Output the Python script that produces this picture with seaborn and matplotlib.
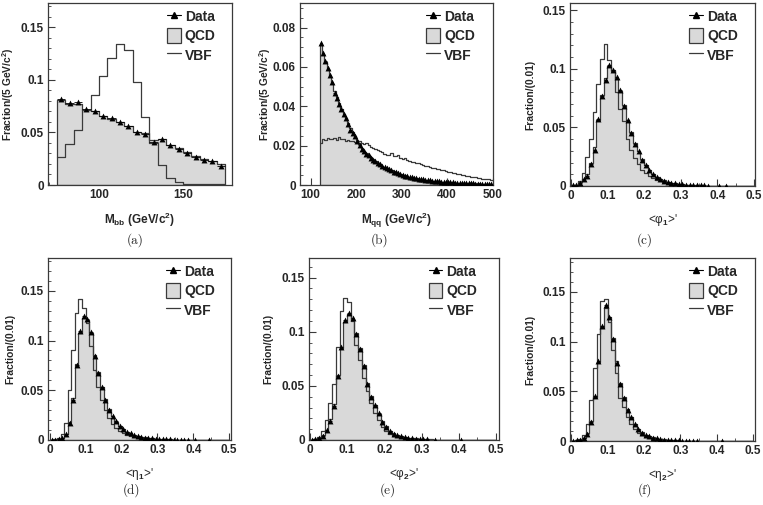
import numpy as np
import pandas as pd
import matplotlib
matplotlib.use("Agg")
import matplotlib.pyplot as plt
import seaborn as sns
from matplotlib.lines import Line2D
from matplotlib.patches import Patch
from matplotlib.ticker import AutoMinorLocator

sns.set_theme(style="white")
plt.rcParams["font.family"] = ["Liberation Sans", "DejaVu Sans"]
plt.rcParams["font.weight"] = "bold"
plt.rcParams["mathtext.fontset"] = "custom"
plt.rcParams["mathtext.rm"] = "Liberation Sans:bold"
plt.rcParams["mathtext.bf"] = "Liberation Sans:bold"
plt.rcParams["mathtext.it"] = "Liberation Sans:bold"

nan = np.nan

# ---------------- panel (a): M_bb, 5 GeV bins from 75 to 175
edges_a = list(range(75, 180, 5))
data_a = [0.0816, 0.0784, 0.0790, 0.0719, 0.0706, 0.0658, 0.0639, 0.0597, 0.0565, 0.0500,
          0.0487, 0.0410, 0.0442, 0.0380, 0.0345, 0.0306, 0.0268, 0.0235, 0.0229, 0.0185]
qcd_a = [0.0805, 0.0772, 0.0772, 0.0712, 0.0700, 0.0660, 0.0632, 0.0595, 0.0560, 0.0505,
         0.0490, 0.0425, 0.0440, 0.0382, 0.0350, 0.0312, 0.0275, 0.0245, 0.0232, 0.0200]
vbf_a = [0.027, 0.039, 0.052, 0.071, 0.086, 0.104, 0.121, 0.134, 0.128, 0.098,
         0.065, 0.040, 0.019, 0.007, 0.0025, 0.0012, 0.0008, 0.0006, 0.0005, 0.0005]

# ---------------- panel (b): M_qq, 5 GeV bins from 120 to 500
edges_b = list(range(120, 505, 5))
data_b = [0.0720, 0.0670, 0.0630, 0.0595, 0.0560, 0.0525, 0.0470, 0.0440, 0.0410, 0.0385,
          0.0360, 0.0338, 0.0310, 0.0280, 0.0265, 0.0248, 0.0225, 0.0205, 0.0185, 0.0172,
          0.0160, 0.0150, 0.0138, 0.0128, 0.0120, 0.0112, 0.0105, 0.0098, 0.0090, 0.0085,
          0.0080, 0.0074, 0.0068, 0.0064, 0.0060, 0.0055, 0.0052, 0.0048, 0.0045, 0.0042,
          0.0039, 0.0036, 0.0034, 0.0032, 0.0030, 0.0028, 0.0026, 0.0025, 0.0023, 0.0022,
          0.0020, 0.0019, 0.0018, 0.0017, 0.0016, 0.0015, 0.0014, 0.0013, 0.0013, 0.0012,
          0.0011, 0.0011, 0.0010, 0.0010, 0.0009, 0.0009, 0.0008, 0.0008, 0.0007, 0.0007,
          0.0007, 0.0006, 0.0006, 0.0006, 0.0005, 0.0005]
qcd_b = [0.0710, 0.0665, 0.0625, 0.0590, 0.0555, 0.0520, 0.0480, 0.0445, 0.0415, 0.0388,
         0.0362, 0.0340, 0.0315, 0.0290, 0.0270, 0.0250, 0.0228, 0.0208, 0.0190, 0.0175,
         0.0162, 0.0150, 0.0140, 0.0130, 0.0121, 0.0113, 0.0106, 0.0099, 0.0092, 0.0086,
         0.0081, 0.0075, 0.0070, 0.0065, 0.0061, 0.0057, 0.0053, 0.0049, 0.0046, 0.0043,
         0.0040, 0.0037, 0.0035, 0.0033, 0.0031, 0.0029, 0.0027, 0.0025, 0.0024, 0.0022,
         0.0021, 0.0020, 0.0018, 0.0017, 0.0016, 0.0015, 0.0014, 0.0014, 0.0013, 0.0012,
         0.0012, 0.0011, 0.0011, 0.0010, 0.0010, 0.0009, 0.0009, 0.0008, 0.0008, 0.0008,
         0.0007, 0.0007, 0.0007, 0.0006, 0.0006, 0.0006]
vbf_b = [0.0215, 0.0235, 0.0230, 0.0240, 0.0232, 0.0236, 0.0240, 0.0228, 0.0245, 0.0232,
         0.0236, 0.0225, 0.0230, 0.0224, 0.0226, 0.0220, 0.0218, 0.0222, 0.0215, 0.0208,
         0.0212, 0.0202, 0.0195, 0.0190, 0.0185, 0.0178, 0.0172, 0.0168, 0.0160, 0.0155,
         0.0152, 0.0162, 0.0148, 0.0145, 0.0150, 0.0138, 0.0132, 0.0135, 0.0126, 0.0122,
         0.0118, 0.0115, 0.0110, 0.0113, 0.0105, 0.0100, 0.0098, 0.0095, 0.0090, 0.0088,
         0.0085, 0.0082, 0.0080, 0.0076, 0.0074, 0.0070, 0.0068, 0.0066, 0.0062, 0.0060,
         0.0058, 0.0055, 0.0052, 0.0050, 0.0048, 0.0046, 0.0043, 0.0041, 0.0040, 0.0037,
         0.0035, 0.0033, 0.0031, 0.0030, 0.0028, 0.0026]

# ---------------- panels (c)-(f): 0.01 bins from 0 to 0.5
edges_shape = [round(0.01 * i, 2) for i in range(51)]

data_c = [0.0005, 0.0010, 0.0026, 0.0057, 0.0085, 0.019, 0.031, 0.057, 0.077, 0.090,
          0.103, 0.099, 0.093, 0.082, 0.068, 0.056, 0.045, 0.036, 0.030, 0.022,
          0.0175, 0.0135, 0.0100, 0.0077, 0.0057, 0.0045, 0.0035, 0.0028, 0.0022, 0.0017,
          0.0013, 0.0011, 0.0009, 0.0008, 0.0006, 0.0005, 0.0005, 0.0004, nan, nan,
          0.0003, nan, 0.0003, nan, nan, nan, nan, nan, nan, nan]
qcd_c = [0.0005, 0.0012, 0.0030, 0.0060, 0.0100, 0.0200, 0.0330, 0.0560, 0.0780, 0.0920,
         0.1020, 0.0990, 0.0910, 0.0810, 0.0690, 0.0560, 0.0460, 0.0370, 0.0300, 0.0230,
         0.0180, 0.0140, 0.0105, 0.0080, 0.0060, 0.0047, 0.0036, 0.0029, 0.0023, 0.0018,
         0.0014, 0.0011, 0.0009, 0.0008, 0.0006, 0.0005, 0.0004, 0.0004, 0.0003, 0.0003,
         0.0002, 0.0002, 0.0002, 0.0001, 0.0001, 0, 0, 0, 0, 0]
vbf_c = [0.0003, 0.0010, 0.0040, 0.0110, 0.0250, 0.0400, 0.0630, 0.0870, 0.1080, 0.1210,
         0.1070, 0.0980, 0.0800, 0.0660, 0.0550, 0.0400, 0.0310, 0.0240, 0.0190, 0.0140,
         0.0110, 0.0085, 0.0070, 0.0050, 0.0040, 0.0030, 0.0025, 0.0020, 0.0015, 0.0010,
         0.0008, 0.0006, 0.0005, 0.0004, 0.0003, 0.0002, 0.0002, 0.0001, 0.0001, 0.0001,
         0, 0, 0, 0, 0, 0, 0, 0, 0, 0]

data_d = [0.0003, 0.0005, 0.0010, 0.0020, 0.0060, 0.0170, 0.0400, 0.0750, 0.1100, 0.1250,
          0.1220, 0.1090, 0.0840, 0.0670, 0.0530, 0.0400, 0.0300, 0.0240, 0.0190, 0.0140,
          0.0110, 0.0084, 0.0067, 0.0050, 0.0040, 0.0032, 0.0025, 0.0020, 0.0016, 0.0013,
          0.0010, 0.0008, 0.0007, 0.0006, 0.0005, 0.0004, 0.0004, 0.0003, 0.0003, nan,
          0.0003, nan, nan, nan, 0.0002, nan, nan, nan, nan, nan]
qcd_d = [0.0003, 0.0006, 0.0012, 0.0025, 0.0065, 0.0180, 0.0420, 0.0760, 0.1080, 0.1230,
         0.1210, 0.1080, 0.0850, 0.0680, 0.0530, 0.0410, 0.0310, 0.0240, 0.0185, 0.0140,
         0.0110, 0.0085, 0.0066, 0.0052, 0.0041, 0.0032, 0.0026, 0.0021, 0.0017, 0.0014,
         0.0011, 0.0009, 0.0007, 0.0006, 0.0005, 0.0004, 0.0004, 0.0003, 0.0003, 0.0002,
         0.0002, 0.0002, 0.0001, 0.0001, 0.0001, 0, 0, 0, 0, 0]
vbf_d = [0.0000, 0.0005, 0.0020, 0.0060, 0.0170, 0.0500, 0.0900, 0.1280, 0.1420, 0.1330,
         0.1180, 0.0950, 0.0700, 0.0530, 0.0400, 0.0300, 0.0220, 0.0160, 0.0120, 0.0090,
         0.0070, 0.0050, 0.0040, 0.0030, 0.0025, 0.0020, 0.0015, 0.0010, 0.0008, 0.0006,
         0.0005, 0.0004, 0.0003, 0.0002, 0.0002, 0.0001, 0.0001, 0, 0, 0,
         0, 0, 0, 0, 0, 0, 0, 0, 0, 0]

data_e = [0.0003, 0.0010, 0.0020, 0.0040, 0.0090, 0.0180, 0.0310, 0.0590, 0.0860, 0.1110,
          0.1170, 0.1130, 0.0980, 0.0840, 0.0680, 0.0520, 0.0400, 0.0320, 0.0250, 0.0170,
          0.0120, 0.0080, 0.0060, 0.0046, 0.0037, 0.0030, 0.0022, 0.0017, 0.0013, 0.0010,
          0.0008, 0.0006, nan, 0.0004, nan, nan, nan, nan, nan, nan,
          0.0003, nan, nan, nan, nan, nan, nan, nan, nan, nan]
qcd_e = [0.0003, 0.0010, 0.0022, 0.0045, 0.0095, 0.0190, 0.0330, 0.0600, 0.0850, 0.1090,
         0.1160, 0.1120, 0.0990, 0.0850, 0.0690, 0.0530, 0.0410, 0.0320, 0.0240, 0.0175,
         0.0125, 0.0085, 0.0063, 0.0048, 0.0038, 0.0030, 0.0023, 0.0018, 0.0014, 0.0011,
         0.0008, 0.0006, 0.0005, 0.0004, 0.0003, 0.0003, 0.0002, 0.0002, 0.0001, 0.0001,
         0.0001, 0, 0, 0, 0, 0, 0, 0, 0, 0]
vbf_e = [0.0002, 0.0010, 0.0030, 0.0080, 0.0185, 0.0340, 0.0520, 0.0860, 0.1190, 0.1310,
         0.1270, 0.1100, 0.0880, 0.0740, 0.0570, 0.0450, 0.0340, 0.0250, 0.0185, 0.0120,
         0.0080, 0.0055, 0.0040, 0.0030, 0.0022, 0.0016, 0.0012, 0.0009, 0.0007, 0.0005,
         0.0004, 0.0003, 0.0002, 0.0002, 0.0001, 0, 0, 0, 0, 0,
         0, 0, 0, 0, 0, 0, 0, 0, 0, 0]

data_f = [0.0003, 0.0007, 0.0013, 0.0030, 0.0074, 0.0190, 0.0450, 0.0800, 0.1160, 0.1370,
          0.1250, 0.1030, 0.0785, 0.0570, 0.0430, 0.0310, 0.0240, 0.0175, 0.0124, 0.0084,
          0.0064, 0.0047, 0.0034, 0.0026, 0.0020, 0.0015, 0.0012, 0.0009, 0.0007, 0.0006,
          0.0005, 0.0004, 0.0004, 0.0003, 0.0003, nan, nan, nan, nan, nan,
          nan, 0.0003, nan, nan, nan, nan, nan, nan, nan, nan]
qcd_f = [0.0003, 0.0008, 0.0015, 0.0032, 0.0080, 0.0200, 0.0440, 0.0790, 0.1140, 0.1340,
         0.1250, 0.1040, 0.0800, 0.0580, 0.0440, 0.0320, 0.0240, 0.0175, 0.0125, 0.0088,
         0.0065, 0.0048, 0.0036, 0.0027, 0.0021, 0.0016, 0.0012, 0.0010, 0.0008, 0.0006,
         0.0005, 0.0004, 0.0003, 0.0003, 0.0002, 0.0002, 0.0001, 0.0001, 0.0001, 0.0001,
         0.0001, 0, 0, 0, 0, 0, 0, 0, 0, 0]
vbf_f = [0.0002, 0.0008, 0.0020, 0.0060, 0.0170, 0.0410, 0.0730, 0.1080, 0.1410, 0.1430,
         0.1200, 0.0910, 0.0680, 0.0430, 0.0340, 0.0240, 0.0175, 0.0120, 0.0080, 0.0057,
         0.0040, 0.0030, 0.0022, 0.0016, 0.0012, 0.0009, 0.0007, 0.0005, 0.0004, 0.0003,
         0.0002, 0.0002, 0.0001, 0, 0, 0, 0, 0, 0, 0,
         0, 0, 0, 0, 0, 0, 0, 0, 0, 0]

# tick values / labels
yticks_frac = [0, 0.05, 0.1, 0.15]
yticklabels_frac = ["0", "0.05", "0.1", "0.15"]
yticks_b = [0, 0.02, 0.04, 0.06, 0.08]
yticklabels_b = ["0", "0.02", "0.04", "0.06", "0.08"]
xticks_a = [100, 150]
xticks_b = [100, 200, 300, 400, 500]
xticks_shape = [0, 0.1, 0.2, 0.3, 0.4, 0.5]
xticklabels_shape = ["0", "0.1", "0.2", "0.3", "0.4", "0.5"]

QCD_FILL = "#d9d9d9"
LINE = "#3a3a3a"
W, H = 763, 505


def add_axes(fig, l, r, t, b):
    return fig.add_axes([l / W, 1 - b / H, (r - l) / W, (b - t) / H])


def draw_panel(ax, edges, data, qcd, vbf, xlim, ylim, xticks, xticklabels,
               yticks, yticklabels, xlabel, ylabel, leg_x, ylab_x, xlabel_weight="bold"):
    edges = [float(e) for e in edges]
    e = np.asarray(edges)
    centers = 0.5 * (e[:-1] + e[1:])
    half = 0.5 * np.diff(e)
    df = pd.DataFrame({"x": centers, "qcd": qcd, "vbf": vbf,
                       "data": np.asarray(data, float)})
    sns.histplot(data=df, x="x", weights="qcd", bins=edges, element="step", fill=True,
                 facecolor=QCD_FILL, edgecolor=LINE, linewidth=0.9, alpha=1, ax=ax)
    sns.histplot(data=df, x="x", weights="vbf", bins=edges, element="step", fill=False,
                 color=LINE, linewidth=0.9, ax=ax)
    pts = df.dropna(subset=["data"])
    ax.errorbar(pts["x"], pts["data"], xerr=half[pts.index], fmt="none",
                ecolor="black", elinewidth=0.6)
    sns.scatterplot(data=pts, x="x", y="data", marker="^", s=18, color="black",
                    edgecolor="black", linewidth=0, ax=ax, zorder=5)

    ax.set_xlim(*xlim)
    ax.set_ylim(*ylim)
    ax.set_xticks(xticks)
    ax.set_xticklabels(xticklabels)
    ax.set_yticks(yticks)
    ax.set_yticklabels(yticklabels)
    ax.xaxis.set_minor_locator(AutoMinorLocator(5 if len(xticks) < 3 else 2))
    ax.yaxis.set_minor_locator(AutoMinorLocator(5 if len(yticks) < 5 else 4))
    ax.tick_params(axis="both", which="major", direction="in", length=5, width=0.8,
                   labelsize=8.5, color=LINE, bottom=True, left=True, pad=3)
    ax.tick_params(axis="both", which="minor", direction="in", length=2.5, width=0.6,
                   color=LINE, bottom=True, left=True)
    for lab in ax.get_xticklabels() + ax.get_yticklabels():
        lab.set_fontweight("bold")
    for sp in ax.spines.values():
        sp.set_color(LINE)
        sp.set_linewidth(0.9)
    ax.set_xlabel(xlabel, fontsize=8.5, fontweight=xlabel_weight, labelpad=7)
    ax.set_ylabel(ylabel, fontsize=7.4, fontweight="bold")
    ax.yaxis.set_label_coords(ylab_x, 0.5)

    handles = [
        Line2D([], [], color="black", marker="^", markersize=5, linewidth=0.8),
        Patch(facecolor=QCD_FILL, edgecolor=LINE, linewidth=0.9),
        Line2D([], [], color=LINE, linewidth=0.9),
    ]
    ax.legend(handles, ["Data", "QCD", "VBF"], loc="upper left",
              bbox_to_anchor=(leg_x, 1.0), frameon=False, handlelength=1.0,
              handleheight=1.3, handletextpad=0.3, labelspacing=0.3,
              borderpad=0.2, borderaxespad=0.2,
              prop={"weight": "bold", "size": 10})


fig = plt.figure(figsize=(W / 100, H / 100), dpi=100)

ax_a = add_axes(fig, 48, 232, 3, 185)
draw_panel(ax_a, edges_a, data_a, qcd_a, vbf_a, (69.6, 179.2), (0, 0.173),
           xticks_a, ["100", "150"], yticks_frac, yticklabels_frac,
           r"M$_{\mathbf{bb}}$ (GeV/c$^{\mathbf{2}}$)", r"Fraction/(5 GeV/c$^{\mathbf{2}}$)",
           0.615, -0.172)

ax_b = add_axes(fig, 300, 493, 3, 185)
draw_panel(ax_b, edges_b, data_b, qcd_b, vbf_b, (76.5, 501), (0, 0.0925),
           xticks_b, [str(v) for v in xticks_b], yticks_b, yticklabels_b,
           r"M$_{\mathbf{qq}}$ (GeV/c$^{\mathbf{2}}$)", r"Fraction/(5 GeV/c$^{\mathbf{2}}$)",
           0.625, -0.14)

ax_c = add_axes(fig, 570, 755, 3, 186)
draw_panel(ax_c, edges_shape, data_c, qcd_c, vbf_c, (-0.002, 0.503), (0, 0.156),
           xticks_shape, xticklabels_shape, yticks_frac, yticklabels_frac,
           r"<φ$_{1}$>'", "Fraction/(0.01)", 0.615, -0.189, xlabel_weight="normal")

ax_d = add_axes(fig, 48, 231, 258, 440)
draw_panel(ax_d, edges_shape, data_d, qcd_d, vbf_d, (-0.005, 0.505), (0, 0.183),
           xticks_shape, xticklabels_shape, yticks_frac, yticklabels_frac,
           r"<η$_{1}$>'", "Fraction/(0.01)", 0.615, -0.18, xlabel_weight="normal")

ax_e = add_axes(fig, 309, 499, 258, 440)
draw_panel(ax_e, edges_shape, data_e, qcd_e, vbf_e, (-0.002, 0.508), (0, 0.168),
           xticks_shape, xticklabels_shape, yticks_frac, yticklabels_frac,
           r"<φ$_{2}$>'", "Fraction/(0.01)", 0.60, -0.188, xlabel_weight="normal")

ax_f = add_axes(fig, 570, 755, 258, 441)
draw_panel(ax_f, edges_shape, data_f, qcd_f, vbf_f, (-0.003, 0.505), (0, 0.184),
           xticks_shape, xticklabels_shape, yticks_frac, yticklabels_frac,
           r"<η$_{2}$>'", "Fraction/(0.01)", 0.615, -0.189, xlabel_weight="normal")

captions = ["(a)", "(b)", "(c)", "(d)", "(e)", "(f)"]
caption_xy = [(135, 240), (380, 240), (645, 240), (132, 490), (388, 490), (645, 490)]
for cap, (cx, cy) in zip(captions, caption_xy):
    fig.text(cx / W, 1 - cy / H, cap, ha="center", va="center",
             family="cmr10", fontsize=9.5, fontweight="normal")

fig.savefig("out.png", dpi=100)
